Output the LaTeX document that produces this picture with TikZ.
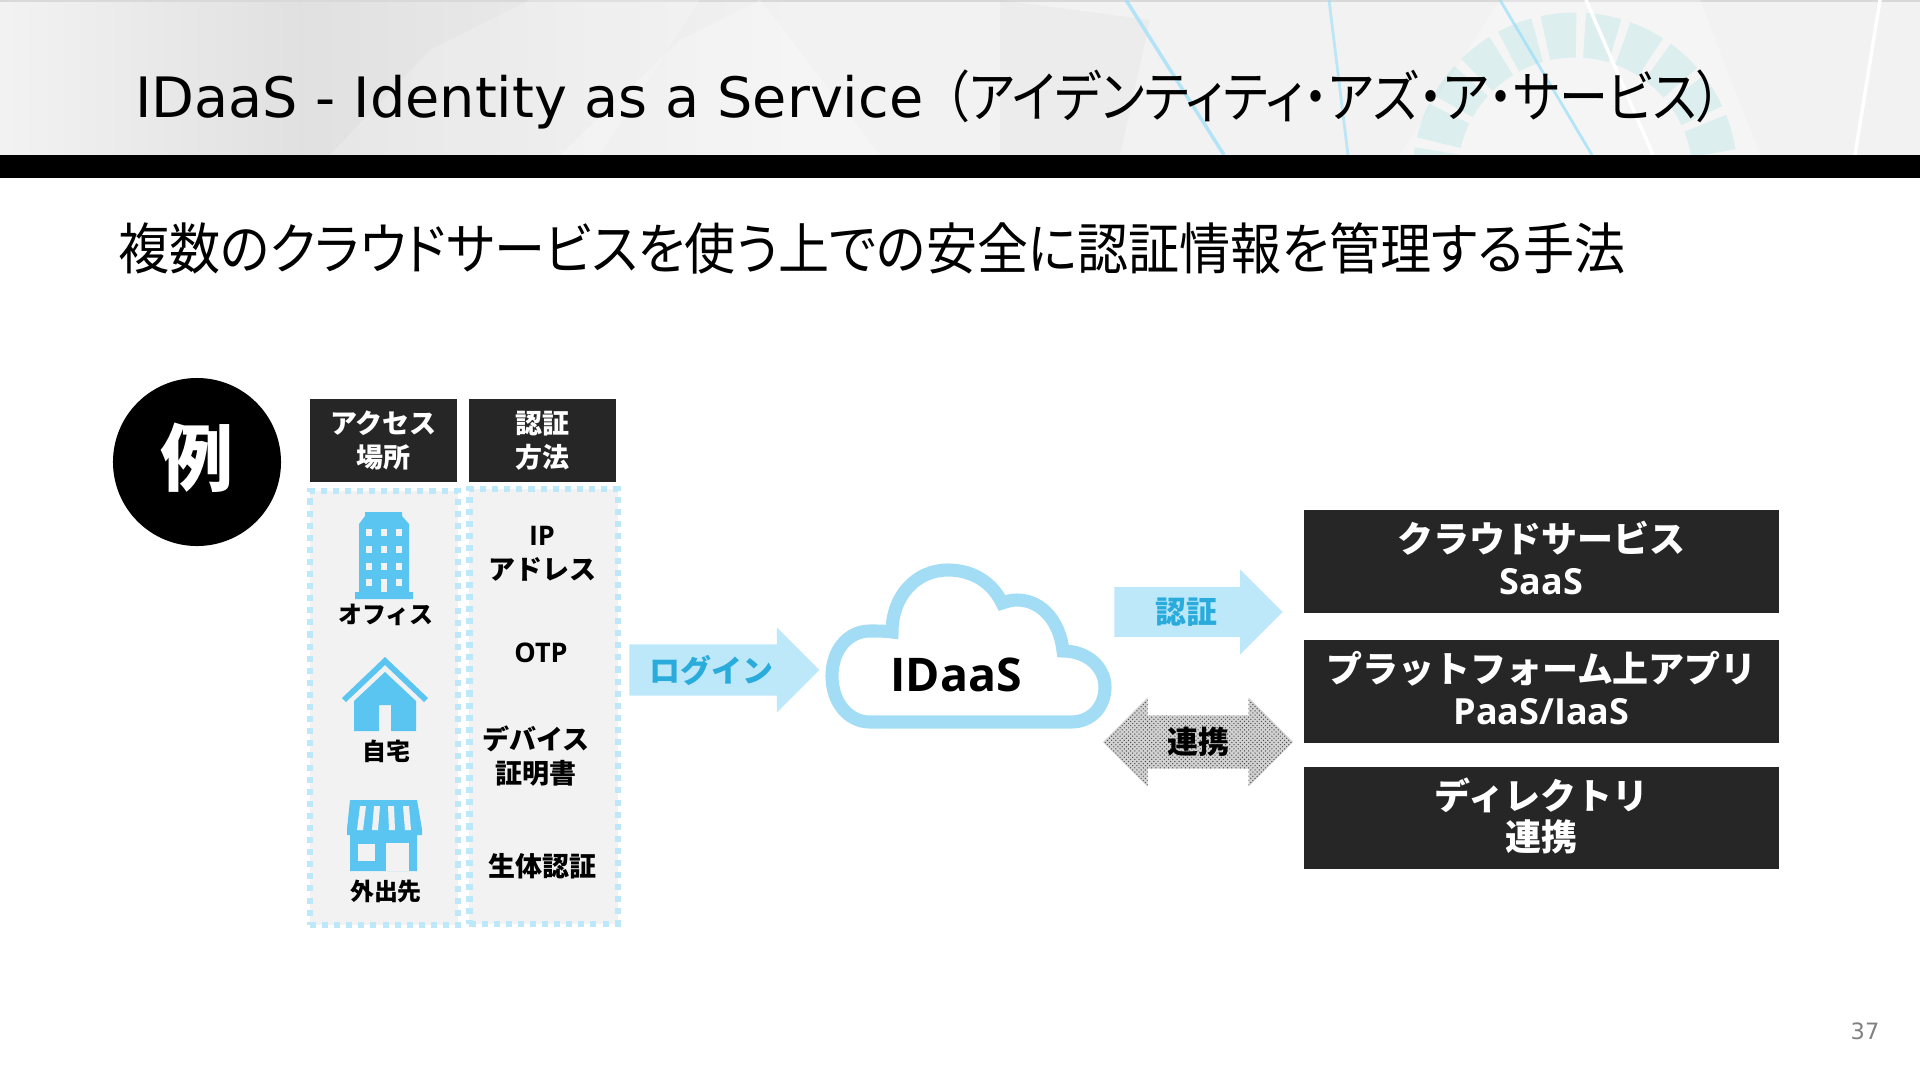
\documentclass[tikz,border=0pt]{standalone}
\usepackage{fontspec}
\usepackage{xcolor}
\usetikzlibrary{shapes.arrows, shapes.geometric, patterns, positioning}
\setmainfont{Noto Sans CJK JP}
\newfontfamily\palttitle[RawFeature=+palt, FakeStretch=0.88]{Noto Sans CJK JP}
\newfontfamily\paltsub[RawFeature=+palt, FakeStretch=0.92]{Noto Sans CJK JP}
\newfontfamily\lat{DejaVu Sans}
\newfontfamily\latb{Open Sans}
\newcommand{\dropstrut}[1]{\rule[-#1]{0pt}{#1}}
\definecolor{darkbox}{HTML}{262626}
\definecolor{skyicon}{HTML}{5BC5F1}
\definecolor{skypale}{HTML}{BDE8FA}
\definecolor{skyline}{HTML}{A3DDF5}
\definecolor{skytext}{HTML}{29ABDC}
\definecolor{panelgray}{HTML}{F2F2F2}

\begin{document}
\begin{tikzpicture}[
  x=0.025cm, y=-0.025cm,
  headbox/.style={rectangle, fill=darkbox, text=white, minimum width=3.675cm, minimum height=2.075cm,
                inner sep=0pt, font=\fontsize{19.2}{24.5}\selectfont\bfseries, align=center},
  panel/.style={rectangle, fill=panelgray, draw=skypale, line width=4.3pt,
                dash pattern=on 4.3pt off 4.3pt, minimum width=3.7cm, minimum height=10.85cm, inner sep=0pt},
  cloudbox/.style={rectangle, fill=darkbox, text=white, minimum width=11.875cm, minimum height=2.55cm,
                inner sep=0pt, font=\fontsize{25.6}{29.5}\selectfont\bfseries, align=center},
  small/.style={font=\fontsize{17}{21}\selectfont\bfseries, align=center, inner sep=0pt},
  method/.style={font=\fontsize{19.2}{24.5}\selectfont\bfseries, align=center, inner sep=0pt},
  flowarrow/.style={single arrow, fill=skypale, draw=none, single arrow head extend=0.255cm,
                single arrow head indent=0pt, minimum width=2.125cm, inner sep=0pt,
                text=skytext, font=\fontsize{22}{26}\selectfont\bfseries},
  icon/.style={fill=skyicon, draw=none}
]
\useasboundingbox (0,0) rectangle (1920,1080);

% Header band
\shade[left color=gray!10, right color=gray!24] (0,0) rectangle (300,155);
\shade[left color=gray!24, right color=gray!10] (300,0) rectangle (800,155);
\fill[gray!10] (800,0) rectangle (1920,155);
\fill[gray!30] (0,0) rectangle (1920,2);
\fill[white, opacity=0.2] (330,155) -- (430,50) -- (530,0) -- (700,0) -- (600,155) -- cycle;
\fill[white, opacity=0.25] (560,155) -- (680,40) -- (760,0) -- (880,155) -- cycle;
\fill[gray, opacity=0.05] (1000,0) -- (1150,20) -- (1120,155) -- (1000,155) -- cycle;
\fill[white, opacity=0.25] (1500,0) -- (1700,0) -- (1760,155) -- (1400,155) -- cycle;
\begin{scope}
  \clip (0,0) rectangle (1920,155);
  \draw[teal!60!cyan, opacity=0.1, line width=32pt, dash pattern=on 22pt off 6pt] (1575,175) circle (140);
  \draw[cyan!40!white, line width=2.5pt, opacity=0.7] (1126,0) -- (1224,155);
  \draw[cyan!40!white, line width=2pt, opacity=0.6] (1329,0) -- (1348,155);
  \draw[cyan!40!white, line width=2pt, opacity=0.7] (1500,0) -- (1592,155);
  \draw[white, line width=2.5pt] (1586,0) -- (1653,155);
  \draw[white, line width=2.5pt] (1880,0) -- (1855,155);
\end{scope}
\fill[black] (0,155) rectangle (1920,178);

% Titles
\node[anchor=base west, inner sep=0pt, font=\fontsize{39.6}{46}\selectfont] (title) at (135,117)
  {{\lat IDaaS - Identity as a Service}\hspace{15pt}{\palttitle （アイデンティティ・アズ・ア・サービス）}};
\node[anchor=base west, inner sep=0pt, font=\fontsize{39.5}{46}\selectfont\paltsub] (subtitle) at (118,269)
  {複数のクラウドサービスを使う上での安全に認証情報を管理する手法};

% Example mark
\node[circle, fill=black, text=white, minimum size=4.2cm, inner sep=0pt,
      font=\fontsize{52}{60}\selectfont\bfseries] (example) at (197,462) {例\dropstrut{10.5pt}};

% Left columns
\node[headbox] (placehead) at (383.5,440.5) {アクセス\\場所};
\node[headbox] (authhead) at (542.5,440.5) {認証\\方法};
\node[panel] (placepanel) at (384,708) {};
\node[panel] (authpanel) at (543.5,706.5) {};

% Building
\fill[icon] (365,512) -- (402,512) -- (402,516) -- (409,524) -- (409,592) -- (413,592) -- (413,599)
  -- (355,599) -- (355,592) -- (359,592) -- (359,524) -- (365,516) -- cycle;
\foreach \wx in {366,381,396} {
  \foreach \wy in {529,546,563,579} {
    \fill[panelgray] (\wx,\wy) rectangle ++(6,7);
  }
}
\fill[panelgray] (381,579) rectangle (387,592);
\node[small] (office) at (386,615) {オフィス};

% House
\fill[icon] (385,657) -- (428,698) -- (424,702) -- (385,665) -- (346,702) -- (342,698) -- cycle;
\fill[icon] (385,672) -- (416,701) -- (416,731) -- (391,731) -- (391,705) -- (379,705) -- (379,731)
  -- (354,731) -- (354,701) -- cycle;
\node[small] (home) at (386,751) {自宅};

% Shop
\fill[icon] (350,800) -- (417,800) -- (422,829) -- (422,835) -- (417,835) -- (417,871) -- (350,871)
  -- (350,835) -- (347,835) -- (347,829) -- cycle;
\foreach \sx/\ex in {360/357,374/372,388/389,403/405} {
  \fill[panelgray] (\sx,806) -- (\sx+6,806) -- (\ex+6,830) -- (\ex,830) -- cycle;
}
\fill[panelgray] (358,844) rectangle (375,861);
\fill[panelgray] (386,843) rectangle (409,871);
\node[small] (outside) at (386,891) {外出先};

% Methods
\node[method] (ipaddr) at (542,554) {{\latb\bfseries IP}\\アドレス};
\node[method] (otp) at (541,653) {\latb\bfseries OTP};
\node[method] (devcert) at (536,756) {デバイス\\証明書};
\node[method] (bio) at (542,866) {生体認証};

% Cloud
\draw[draw=skyline, fill=white, line width=9.3pt]
  (870,722) -- (1071,722) .. controls (1092,722) and (1105,706) .. (1105,687)
  .. controls (1105,668) and (1088,651) .. (1063,651) .. controls (1060,622) and (1042,600) .. (1017,600)
  .. controls (1012,600) and (1008,601) .. (1002,603) .. controls (992,582) and (972,570) .. (948,570)
  .. controls (916,570) and (892,596) .. (892,632) .. controls (886,631) and (878,631) .. (870,631)
  .. controls (848,631) and (832,650) .. (832,676) .. controls (832,702) and (848,722) .. (870,722) -- cycle;
\node[inner sep=0pt, font=\fontsize{33}{40}\selectfont\latb\bfseries] (idaas) at (956,675) {IDaaS};

% Block arrows
\node[flowarrow, minimum height=4.75cm] (login) at (711.5,670) {ログイン};
\node[flowarrow, minimum height=4.2cm] (authn) at (1186,612) {認証};
\node[double arrow, preaction={fill=gray!35}, pattern=crosshatch dots, pattern color=black!70, draw=none,
      double arrow head extend=0.255cm, double arrow head indent=0pt, minimum width=2.225cm,
      minimum height=4.75cm, inner sep=0pt,
      font=\fontsize{22}{26}\selectfont\bfseries] (link) at (1198,742) {連携};

% Right boxes
\node[cloudbox] (saas) at (1541.5,561.5) {クラウドサービス\\{\latb\bfseries SaaS}\dropstrut{5.4pt}};
\node[cloudbox] (paas) at (1541.5,691.5) {プラットフォーム上アプリ\\{\latb\bfseries PaaS/IaaS}\dropstrut{5.4pt}};
\node[cloudbox] (dirlink) at (1541.5,818) {ディレクトリ\\連携\dropstrut{5.4pt}};

% Page number
\node[inner sep=0pt, text=gray, font=\fontsize{16}{20}\selectfont\lat] (pageno) at (1865,1031) {37};
\end{tikzpicture}
\end{document}
